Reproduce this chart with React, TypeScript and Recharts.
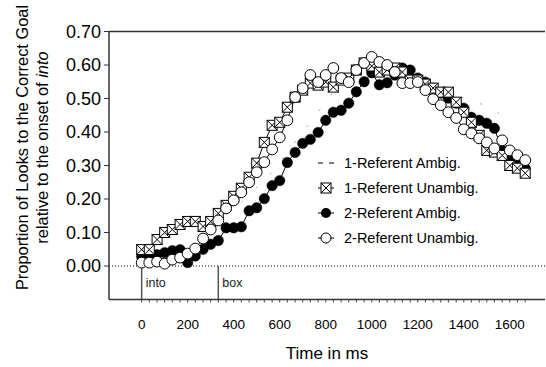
import React from 'react';
import { LineChart, Line, XAxis, YAxis, ReferenceLine, Legend } from 'recharts';

// sample times in ms (one frame = 33 ms)
const times = [
  0, 33, 67, 100, 133, 167, 200, 233, 267, 300, 333, 367, 400, 433, 467, 500, 533, 567, 600, 633,
  667, 700, 733, 767, 800, 833, 867, 900, 933, 967, 1000, 1033, 1067, 1100, 1133, 1167, 1200, 1233,
  1267, 1300, 1333, 1367, 1400, 1433, 1467, 1500, 1533, 1567, 1600, 1633, 1667,
];
const xTickLabels = [0, 200, 400, 600, 800, 1000, 1200, 1400, 1600];
const yTicks = [0, 0.1, 0.2, 0.3, 0.4, 0.5, 0.6, 0.7];

// the dashed series is mostly hidden, only a few pieces are visible
const oneRefAmbig = [
  null, null, null, null, null, null, null, null, null, null, null, null, null, 0.19, null, null, null, 0.28, null, null,
  null, null, 0.43, null, null, 0.52, null, null, null, null, null, null, 0.58, null, null, null, null, null,
  null, null, null, null, null, null, null, null, 0.47, null, 0.42, null, null,
];
const oneRefUnambig = [
  0.049, 0.049, 0.079, 0.1, 0.109, 0.124, 0.133, 0.133, 0.118, 0.133, 0.157, 0.181, 0.208, 0.232, 0.265, 0.307, 0.369, 0.42, 0.429, 0.474,
  0.504, 0.525, 0.546, 0.54, 0.549, 0.534, 0.555, 0.561, 0.585, 0.606, 0.597, 0.579, 0.585, 0.591, 0.579, 0.555, 0.555, 0.543,
  0.531, 0.519, 0.519, 0.489, 0.459, 0.429, 0.39, 0.345, 0.34, 0.33, 0.3, 0.292, 0.277,
];
const twoRefAmbig = [
  0.028, 0.031, 0.034, 0.04, 0.046, 0.049, 0.01, 0.03, 0.05, 0.065, 0.076, 0.114, 0.114, 0.117, 0.165, 0.174, 0.201, 0.24, 0.255, 0.309,
  0.339, 0.366, 0.378, 0.399, 0.435, 0.459, 0.465, 0.486, 0.52, 0.55, 0.577, 0.541, 0.547, 0.57, 0.591, 0.585, 0.561, 0.549,
  0.531, 0.516, 0.501, 0.486, 0.471, 0.444, 0.435, 0.426, 0.411, 0.345, 0.325, 0.307, 0.292,
];
const twoRefUnambig = [
  0.01, 0.01, 0.013, 0.007, 0.019, 0.025, 0.037, 0.052, 0.082, 0.109, 0.136, 0.172, 0.196, 0.22, 0.25, 0.28, 0.31, 0.348, 0.384, 0.435,
  0.504, 0.531, 0.57, 0.549, 0.57, 0.591, 0.561, 0.549, 0.585, 0.606, 0.624, 0.609, 0.6, 0.579, 0.546, 0.546, 0.549, 0.525,
  0.498, 0.48, 0.459, 0.442, 0.408, 0.396, 0.381, 0.369, 0.351, 0.375, 0.345, 0.331, 0.316,
];

const data = times.map((t, i) => ({
  t,
  a1: oneRefAmbig[i],
  u1: oneRefUnambig[i],
  a2: twoRefAmbig[i],
  u2: twoRefUnambig[i],
}));

const FONT = '"Liberation Sans", Arial, sans-serif';

const SquareX = ({ cx, cy, s = 5 }: { cx: number; cy: number; s?: number }) => (
  <g>
    <rect x={cx - s} y={cy - s} width={s * 2} height={s * 2} fill="#fff" stroke="#000" strokeWidth={1} />
    <path d={`M${cx - s},${cy - s}L${cx + s},${cy + s}M${cx + s},${cy - s}L${cx - s},${cy + s}`} stroke="#000" strokeWidth={1} />
  </g>
);

const squareDot = (p: any) =>
  p.cx == null || p.cy == null ? <g key={`s${p.index}`} /> : <SquareX key={`s${p.index}`} cx={p.cx} cy={p.cy} />;

const XTick = (props: any) => {
  const { x, y, payload } = props;
  const show = xTickLabels.includes(payload.value);
  return (
    <g>
      <line x1={x} x2={x} y1={y} y2={y + 3} stroke="#444" strokeWidth={1} />
      {show && (
        <text x={x} y={y + 29} textAnchor="middle" fontSize={13.5} fill="#000" fontFamily={FONT}>
          {payload.value}
        </text>
      )}
    </g>
  );
};

const YTitle = (props: any) => {
  const cy = props.viewBox.y + props.viewBox.height / 2 - 18;
  return (
    <g fontFamily={FONT} fontSize={16.4} fill="#000">
      <text transform={`translate(22,${cy}) rotate(-90)`} textAnchor="middle" dominantBaseline="central">
        Proportion of Looks to the Correct Goal
      </text>
      <text transform={`translate(42,${cy}) rotate(-90)`} textAnchor="middle" dominantBaseline="central">
        relative to the onset of <tspan fontStyle="italic">into</tspan>
      </text>
    </g>
  );
};

const XTitle = (props: any) => {
  const { x, width } = props.viewBox;
  return (
    <text x={x + width / 2} y={359} textAnchor="middle" fontSize={17} fill="#000" fontFamily={FONT}>
      Time in ms
    </text>
  );
};

const legendItems = [
  { name: '1-Referent Ambig.', kind: 'dash' },
  { name: '1-Referent Unambig.', kind: 'square' },
  { name: '2-Referent Ambig.', kind: 'filled' },
  { name: '2-Referent Unambig.', kind: 'open' },
];

const LegendIcon = ({ kind }: { kind: string }) => (
  <svg width={22} height={14} style={{ marginRight: 6 }}>
    {kind === 'dash' ? (
      <path d="M2,7H7M13,7H18" stroke="#000" strokeWidth={1} />
    ) : (
      <>
        <path d="M2,7H18" stroke="#000" strokeWidth={1} />
        {kind === 'square' && <SquareX cx={10} cy={7} s={5} />}
        {kind === 'filled' && <circle cx={10} cy={7} r={5} fill="#000" />}
        {kind === 'open' && <circle cx={10} cy={7} r={5} fill="#fff" stroke="#000" strokeWidth={1} />}
      </>
    )}
  </svg>
);

const renderLegend = () => (
  <div style={{ fontFamily: FONT, fontSize: 14.5, color: '#000' }}>
    {legendItems.map((it) => (
      <div key={it.name} style={{ display: 'flex', alignItems: 'center', height: 25 }}>
        <LegendIcon kind={it.kind} />
        <span>{it.name}</span>
      </div>
    ))}
  </div>
);

export default function App() {
  return (
    <div style={{ position: 'absolute', left: 0, top: 0, fontFamily: FONT, background: '#fff' }}>
      <LineChart width={546} height={367} data={data} margin={{ top: 31.5, right: 1, left: 0, bottom: 0.5 }}>
        <XAxis
          dataKey="t"
          type="number"
          domain={[-142, 1753]}
          ticks={times}
          interval={0}
          tick={<XTick />}
          tickLine={false}
          tickSize={0}
          tickMargin={0}
          height={67}
          axisLine={{ stroke: '#333', strokeWidth: 1.5 }}
          label={<XTitle />}
          allowDataOverflow
        />
        <YAxis
          type="number"
          domain={[-0.1, 0.7]}
          ticks={yTicks}
          interval={0}
          width={109}
          tickFormatter={(v: number) => v.toFixed(2)}
          tick={{ fontSize: 18, fill: '#000', fontFamily: FONT }}
          tickSize={5}
          tickMargin={3}
          tickLine={{ stroke: '#333' }}
          axisLine={{ stroke: '#333', strokeWidth: 1.5 }}
          label={<YTitle />}
          allowDataOverflow
        />
        <ReferenceLine y={0.7} stroke="#333" strokeWidth={1.5} />
        <ReferenceLine y={0} stroke="#000" strokeWidth={1} strokeDasharray="1 2" />
        <ReferenceLine
          segment={[{ x: 0, y: -0.1 }, { x: 0, y: 0 }]}
          stroke="#555"
          strokeWidth={1.5}
          label={{ value: 'into', position: 'right', offset: 4, fontSize: 12.5, fill: '#222', fontFamily: FONT }}
        />
        <ReferenceLine
          segment={[{ x: 333, y: -0.1 }, { x: 333, y: 0 }]}
          stroke="#555"
          strokeWidth={1.5}
          label={{ value: 'box', position: 'right', offset: 4, fontSize: 12.5, fill: '#222', fontFamily: FONT }}
        />
        <Line
          dataKey="a1"
          name="1-Referent Ambig."
          stroke="#999"
          strokeWidth={1}
          strokeDasharray="2 18"
          dot={false}
          connectNulls
          isAnimationActive={false}
        />
        <Line
          dataKey="a2"
          name="2-Referent Ambig."
          stroke="#000"
          strokeWidth={1}
          dot={{ r: 5.2, fill: '#000', stroke: '#000', strokeWidth: 0.5 }}
          isAnimationActive={false}
        />
        <Line
          dataKey="u1"
          name="1-Referent Unambig."
          stroke="#000"
          strokeWidth={1}
          dot={squareDot}
          isAnimationActive={false}
        />
        <Line
          dataKey="u2"
          name="2-Referent Unambig."
          stroke="#000"
          strokeWidth={1}
          dot={{ r: 5.4, fill: '#fff', stroke: '#000', strokeWidth: 1 }}
          isAnimationActive={false}
        />
        <Legend
          layout="vertical"
          align="center"
          verticalAlign="middle"
          content={renderLegend}
          wrapperStyle={{ left: 316, top: 150, width: 'auto' }}
        />
      </LineChart>
    </div>
  );
}
